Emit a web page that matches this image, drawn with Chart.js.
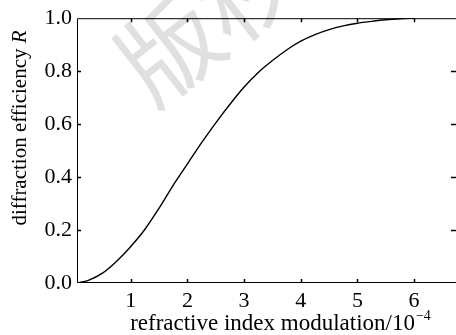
<!DOCTYPE html>
<html>
<head>
<meta charset="utf-8">
<script src="https://cdn.jsdelivr.net/npm/chart.js@4"></script>
<style>
  html, body { margin: 0; padding: 0; background: #fff; }
  #wrap { width: 456px; height: 335px; position: relative; }
</style>
</head>
<body>
<div id="wrap"><canvas id="chart"></canvas></div>
<script>
// values
const modulation = [0.05, 0.25, 0.5, 0.75, 1.0, 1.25, 1.5, 1.75, 2.0, 2.25, 2.5, 2.75, 3.0,
                    3.25, 3.5, 3.75, 4.0, 4.25, 4.5, 4.75, 5.0, 5.25, 5.5, 5.75, 6.0];
const efficiency = [0.0, 0.01, 0.037, 0.082, 0.138, 0.203, 0.283, 0.37, 0.45, 0.53, 0.605, 0.675, 0.74,
                    0.795, 0.84, 0.88, 0.913, 0.938, 0.957, 0.971, 0.981, 0.988, 0.994, 0.998, 1.0];
const xTicks = [1, 2, 3, 4, 5, 6];
const yTicks = [0, 0.2, 0.4, 0.6, 0.8, 1.0];
const xTitle = 'refractive index modulation/10';
const xTitleSup = '\u22124';
const yTitle = 'diffraction efficiency ';
const yTitleVar = 'R';
const watermark = '版权';

const FONT = '"Liberation Serif", "Times New Roman", serif';

// frame, inward ticks, titles and watermark
const decorPlugin = {
    id: 'decor',
    beforeDatasetsDraw(chart) {
        const ctx = chart.ctx;
        ctx.save();
        ctx.fillStyle = '#e0e0e0';
        ctx.font = '100px "Noto Sans CJK SC"';
        ctx.textAlign = 'center';
        ctx.textBaseline = 'middle';
        ctx.translate(209, 18);
        ctx.rotate(-38 * Math.PI / 180);
        ctx.fillText(watermark, 0, 0);
        ctx.restore();
    },
    afterDraw(chart) {
        const ctx = chart.ctx;
        const a = chart.chartArea;
        const xs = chart.scales.x, ys = chart.scales.y;
        ctx.save();
        ctx.strokeStyle = '#000';
        ctx.lineWidth = 1;
        ctx.beginPath();
        ctx.moveTo(a.right, a.top + 0.5);
        ctx.lineTo(a.left + 0.5, a.top + 0.5);
        ctx.lineTo(a.left + 0.5, a.bottom - 0.5);
        ctx.lineTo(a.right, a.bottom - 0.5);
        ctx.stroke();

        ctx.lineWidth = 1.5;
        ctx.beginPath();
        xTicks.forEach(v => {
            const px = Math.round(xs.getPixelForValue(v)) + 0.5;
            ctx.moveTo(px, a.bottom); ctx.lineTo(px, a.bottom - 4);
            ctx.moveTo(px, a.top); ctx.lineTo(px, a.top + 4);
        });
        yTicks.slice(1, -1).forEach(v => {
            const py = Math.round(ys.getPixelForValue(v)) + 0.5;
            ctx.moveTo(a.left, py); ctx.lineTo(a.left + 4, py);
            ctx.moveTo(a.right, py); ctx.lineTo(a.right - 5, py);
        });
        ctx.stroke();

        // x title with superscript
        ctx.fillStyle = '#000';
        ctx.textBaseline = 'alphabetic';
        ctx.font = '23px ' + FONT;
        const w1 = ctx.measureText(xTitle).width;
        ctx.font = '14px ' + FONT;
        const w2 = ctx.measureText(xTitleSup).width;
        let x0 = 280 - (w1 + w2) / 2;
        ctx.font = '23px ' + FONT;
        ctx.textAlign = 'left';
        ctx.fillText(xTitle, x0, 330);
        ctx.font = '14px ' + FONT;
        ctx.fillText(xTitleSup, x0 + w1 + 1, 320);

        // y title, rotated, with italic R
        ctx.translate(26, 128);
        ctx.rotate(-Math.PI / 2);
        ctx.font = '21px ' + FONT;
        const t1 = ctx.measureText(yTitle).width;
        ctx.font = 'italic 21px ' + FONT;
        const t2 = ctx.measureText(yTitleVar).width;
        const s = -(t1 + t2) / 2;
        ctx.font = '21px ' + FONT;
        ctx.fillText(yTitle, s, 0);
        ctx.font = 'italic 21px ' + FONT;
        ctx.fillText(yTitleVar, s + t1, 0);
        ctx.restore();
    }
};

new Chart(document.getElementById('chart'), {
    type: 'line',
    data: {
        datasets: [{
            data: modulation.map((m, i) => ({ x: m, y: efficiency[i] })),
            borderColor: '#000',
            borderWidth: 1.4,
            pointRadius: 0,
            fill: false,
            cubicInterpolationMode: 'monotone'
        }]
    },
    options: {
        responsive: true,
        maintainAspectRatio: false,
        animation: false,
        layout: { padding: { top: 18, right: 0, left: 0, bottom: 0 } },
        plugins: { legend: { display: false }, tooltip: { enabled: false } },
        scales: {
            x: {
                type: 'linear',
                min: 0.05,
                max: 6.74,
                afterBuildTicks: s => { s.ticks = xTicks.map(v => ({ value: v })); },
                afterFit: s => { s.height = 52; },
                grid: { display: false, drawTicks: false },
                border: { display: false },
                ticks: {
                    color: '#000',
                    font: { family: FONT, size: 22 },
                    padding: 5,
                    maxRotation: 0,
                    autoSkip: false,
                    callback: v => String(v)
                }
            },
            y: {
                min: 0,
                max: 1,
                afterBuildTicks: s => { s.ticks = yTicks.map(v => ({ value: v })); },
                afterFit: s => { s.width = 77; },
                grid: { display: false, drawTicks: false },
                border: { display: false },
                ticks: {
                    color: '#000',
                    font: { family: FONT, size: 22 },
                    padding: 5,
                    autoSkip: false,
                    callback: v => Number(v).toFixed(1)
                }
            }
        }
    },
    plugins: [decorPlugin]
});
</script>
</body>
</html>
